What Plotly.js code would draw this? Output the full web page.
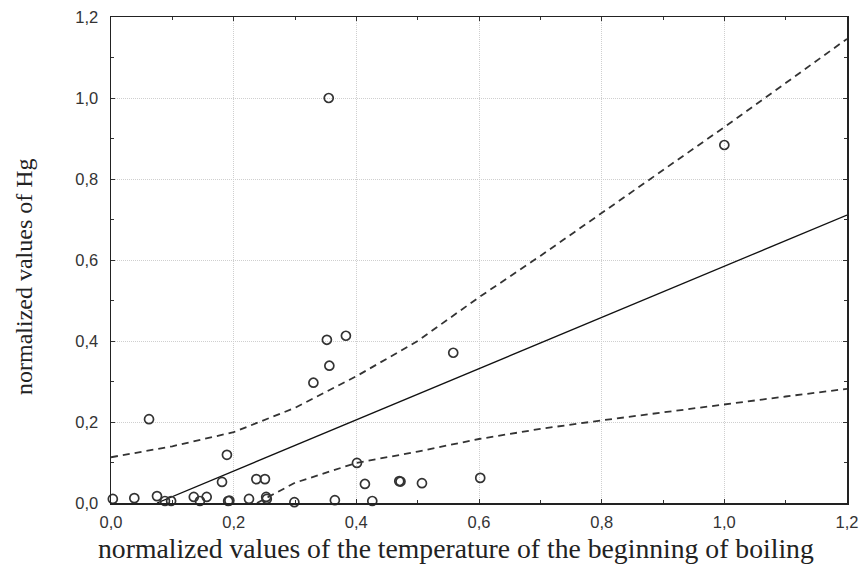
<!DOCTYPE html>
<html>
<head>
<meta charset="utf-8">
<script src="https://cdn.plot.ly/plotly-3.0.1.min.js"></script>
<style>html,body{margin:0;padding:0;background:#fff;}#chart{width:863px;height:567px;}</style>
</head>
<body>
<div id="chart"></div>
<script>
// Observed points: normalized temperature of beginning of boiling (x) vs normalized Hg (y)
const pointsX = [0.003, 0.038, 0.075, 0.088, 0.098, 0.135, 0.145, 0.156, 0.181, 0.191, 0.193,
                 0.062, 0.189, 0.225, 0.237, 0.251, 0.253, 0.254, 0.299, 0.330, 0.352, 0.356,
                 0.383, 0.355, 0.365, 0.401, 0.414, 0.426, 0.470, 0.472, 0.507, 0.558, 0.602, 1.000];
const pointsY = [0.010, 0.012, 0.017, 0.005, 0.005, 0.015, 0.005, 0.015, 0.052, 0.005, 0.006,
                 0.207, 0.119, 0.010, 0.059, 0.059, 0.015, 0.010, 0.002, 0.297, 0.403, 0.339,
                 0.413, 1.000, 0.007, 0.099, 0.047, 0.005, 0.054, 0.053, 0.049, 0.371, 0.062, 0.884];

// Regression line (end points)
const fitX = [0.075, 1.2];
const fitY = [0.0, 0.711];

// Upper confidence band
const upperX = [0.0, 0.1, 0.2, 0.3, 0.4, 0.5, 0.6, 0.7, 0.8, 0.9, 1.0, 1.1, 1.2];
const upperY = [0.113, 0.140, 0.175, 0.235, 0.313, 0.400, 0.508, 0.610, 0.716, 0.822, 0.928, 1.037, 1.146];

// Lower confidence band
const lowerX = [0.238, 0.3, 0.4, 0.5, 0.6, 0.7, 0.8, 0.9, 1.0, 1.1, 1.2];
const lowerY = [0.0, 0.050, 0.099, 0.127, 0.158, 0.183, 0.204, 0.224, 0.244, 0.263, 0.282];

const tickVals = [0, 0.2, 0.4, 0.6, 0.8, 1.0, 1.2];
const tickText = ['0,0', '0,2', '0,4', '0,6', '0,8', '1,0', '1,2'];

const xTitle = 'normalized values of the temperature of the beginning of boiling';
const yTitle = 'normalized values of Hg';

const traces = [
  {x: upperX, y: upperY, type: 'scatter', mode: 'lines',
   line: {color: '#333', width: 1.8, dash: '7px,5px'}, hoverinfo: 'skip'},
  {x: lowerX, y: lowerY, type: 'scatter', mode: 'lines',
   line: {color: '#333', width: 1.8, dash: '7px,5px'}, hoverinfo: 'skip'},
  {x: fitX, y: fitY, type: 'scatter', mode: 'lines',
   line: {color: '#111', width: 1.3}, hoverinfo: 'skip'},
  {x: pointsX, y: pointsY, type: 'scatter', mode: 'markers', cliponaxis: false,
   marker: {symbol: 'circle-open', size: 9, color: '#333', line: {width: 1.7, color: '#333'}}}
];

const axisCommon = {
  range: [0, 1.2],
  tickvals: tickVals,
  ticktext: tickText,
  ticks: 'inside',
  ticklen: 4,
  tickcolor: '#333',
  showline: true,
  linecolor: '#222',
  linewidth: 1.5,
  mirror: 'ticks',
  showgrid: true,
  gridcolor: '#cfcfcf',
  gridwidth: 1,
  griddash: '1px,1px',
  zeroline: false,
  tickfont: {family: 'Liberation Sans, Arial, sans-serif', size: 16.5, color: '#333'},
  minor: {dtick: 0.1, tick0: 0, ticks: 'inside', ticklen: 3, tickcolor: '#333', showgrid: false}
};

const layout = {
  width: 863, height: 567,
  margin: {l: 111, r: 16, t: 17, b: 64},
  paper_bgcolor: '#fff', plot_bgcolor: '#fff',
  showlegend: false,
  xaxis: Object.assign({}, axisCommon, {ticklabelstandoff: 4}),
  yaxis: Object.assign({}, axisCommon, {ticklabelstandoff: 8}),
  annotations: [
    {text: xTitle, xref: 'paper', yref: 'paper', x: (456 - 111) / 736, y: (503 - 548) / 486,
     xanchor: 'center', yanchor: 'middle', showarrow: false,
     font: {family: 'Liberation Serif, Times New Roman, serif', size: 27.7, color: '#222'}},
    {text: yTitle, xref: 'paper', yref: 'paper', x: (24 - 111) / 736, y: (503 - 277) / 486,
     xanchor: 'center', yanchor: 'middle', showarrow: false, textangle: -90,
     font: {family: 'Liberation Serif, Times New Roman, serif', size: 24, color: '#222'}}
  ]
};

Plotly.newPlot('chart', traces, layout, {displayModeBar: false, staticPlot: true});
</script>
</body>
</html>
